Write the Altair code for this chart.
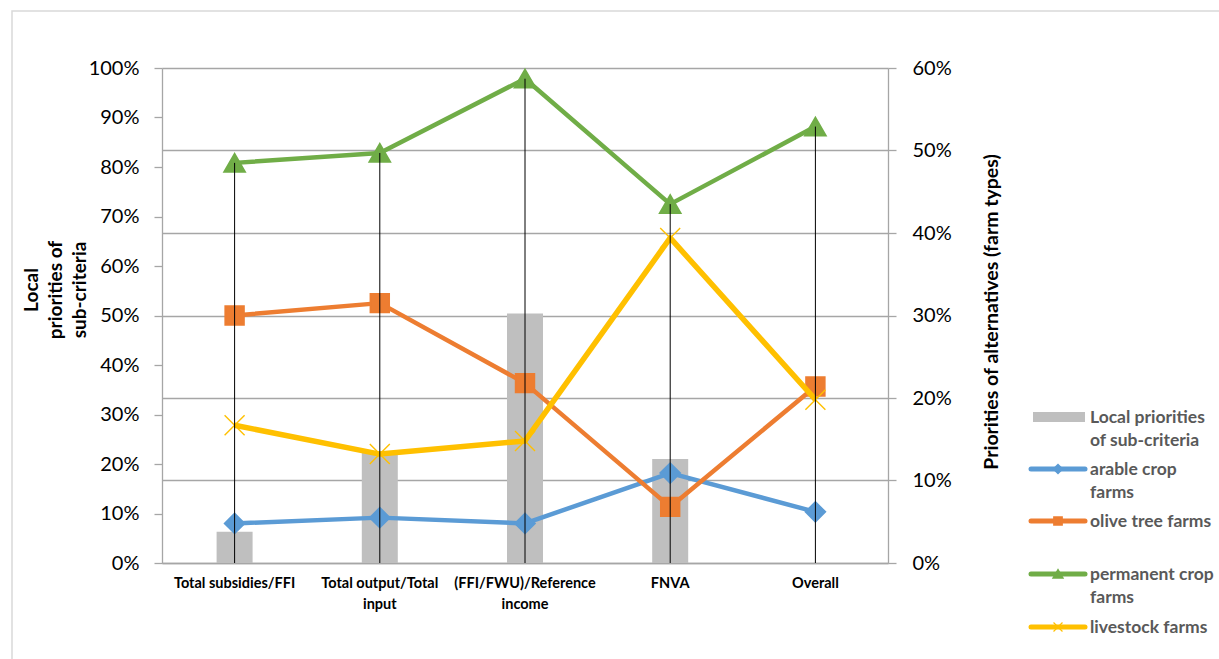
import altair as alt
import pandas as pd

# Sub-criteria on the horizontal axis (line breaks mark where the labels wrap)
CATEGORIES = [
    "Total subsidies/FFI",
    "Total output/Total\ninput",
    "(FFI/FWU)/Reference\nincome",
    "FNVA",
    "Overall",
]

# Local priorities of sub-criteria (left axis); no bar for "Overall"
SUB_CRITERIA = [0.063, 0.222, 0.504, 0.210, None]

# Priorities of alternatives per farm type (right axis)
SERIES_NAMES = ["arable crop farms", "olive tree farms", "permanent crop farms", "livestock farms"]
ARABLE = [0.048, 0.055, 0.048, 0.109, 0.062]
OLIVE = [0.300, 0.315, 0.218, 0.068, 0.214]
PERMANENT = [0.485, 0.497, 0.587, 0.435, 0.529]
LIVESTOCK = [0.167, 0.132, 0.148, 0.394, 0.198]
SERIES_VALUES = [ARABLE, OLIVE, PERMANENT, LIVESTOCK]

LEFT_TITLE = "Local\npriorities of\nsub-criteria"
RIGHT_TITLE = "Priorities of alternatives (farm types)"
LEGEND_LABELS = [
    "Local priorities\nof sub-criteria",
    "arable crop\nfarms",
    "olive tree farms",
    "permanent crop\nfarms",
    "livestock farms",
]

LEFT_TICKS = [i / 10 for i in range(11)]
RIGHT_TICKS = [i / 10 for i in range(7)]

# Styling
FONT = "Lato"
BAR_COLOR = "#BFBFBF"
COLORS = ["#5B9BD5", "#ED7D31", "#70AD47", "#FFC000"]
X_SHAPE = "M-1,-1L1,1M-1,1L1,-1"
SHAPES = ["diamond", "square", "triangle-up", X_SHAPE]
MARKER_SIZES = [380, 340, 420, 400]
LINE_WIDTHS = [4.5, 4.5, 4.5, 5.5]
AXIS_GRAY = "#A6A6A6"
LEGEND_TEXT = "#595959"

W, H = 726, 495

bars_df = pd.DataFrame({"category": CATEGORIES, "value": SUB_CRITERIA}).dropna()
long_df = pd.DataFrame(
    [
        {"category": c, "series": name, "value": v}
        for name, vals in zip(SERIES_NAMES, SERIES_VALUES)
        for c, v in zip(CATEGORIES, vals)
    ]
)

x_enc = alt.X(
    "category:N",
    sort=CATEGORIES,
    scale=alt.Scale(domain=CATEGORIES, paddingInner=0, paddingOuter=0),
    axis=alt.Axis(
        title=None,
        labelExpr="split(datum.label, '\\n')",
        labelAngle=0,
        labelFont=FONT,
        labelFontSize=14.5,
        labelFontWeight="bold",
        labelColor="#000000",
        labelLineHeight=21,
        labelPadding=13,
        ticks=False,
        domainColor=AXIS_GRAY,
        domainWidth=1.3,
        grid=False,
    ),
)

# Bars on the left axis
bars = alt.Chart(bars_df).mark_bar(size=36, color=BAR_COLOR).encode(
    x=x_enc,
    y=alt.Y(
        "value:Q",
        scale=alt.Scale(domain=[0, 1], nice=False, zero=True),
        axis=alt.Axis(
            orient="left",
            title=None,
            values=LEFT_TICKS,
            format=".0%",
            grid=False,
            tickSize=8,
            tickColor=AXIS_GRAY,
            tickWidth=1.3,
            domainColor=AXIS_GRAY,
            domainWidth=1.3,
            labelFont=FONT,
            labelFontSize=20,
            labelColor="#000000",
            labelPadding=15,
        ),
    ),
)

right_scale = alt.Scale(domain=[0, 0.6], nice=False, zero=True)
right_axis = alt.Axis(
    orient="right",
    title=None,
    values=RIGHT_TICKS,
    format=".0%",
    grid=True,
    gridColor=AXIS_GRAY,
    gridWidth=1.3,
    tickSize=8,
    tickColor=AXIS_GRAY,
    tickWidth=1.3,
    domainColor=AXIS_GRAY,
    domainWidth=1.3,
    labelFont=FONT,
    labelFontSize=20,
    labelColor="#000000",
    labelPadding=16,
)

series_layers = []
for name, color, shape, msize, lw in zip(SERIES_NAMES, COLORS, SHAPES, MARKER_SIZES, LINE_WIDTHS):
    base = alt.Chart(long_df).transform_filter(alt.datum.series == name)
    line = base.mark_line(color=color, strokeWidth=lw, strokeJoin="round").encode(
        x=x_enc, y=alt.Y("value:Q", scale=right_scale, axis=right_axis)
    )
    if shape == X_SHAPE:
        pts = base.mark_point(shape=shape, size=msize, filled=False, stroke=color, strokeWidth=1.4, opacity=1)
    else:
        pts = base.mark_point(shape=shape, size=msize, filled=True, fill=color, stroke=color, opacity=1)
    pts = pts.encode(x=x_enc, y=alt.Y("value:Q", scale=right_scale, axis=right_axis))
    series_layers += [line, pts]

# Drop lines from the highest value of each category down to the axis
drops = (
    alt.Chart(long_df)
    .transform_aggregate(top="max(value)", groupby=["category"])
    .transform_calculate(base="0")
    .mark_rule(color="#000000", strokeWidth=1)
    .encode(
        x=x_enc,
        y=alt.Y("top:Q", scale=right_scale, axis=right_axis),
        y2="base:Q",
    )
)

lines_group = alt.layer(*series_layers, drops)

one = pd.DataFrame({"k": [0]})

frame = alt.Chart(one).mark_rect(filled=False, stroke="#D9D9D9", strokeWidth=1.5).encode(
    x=alt.value(-150), x2=alt.value(1100), y=alt.value(-57), y2=alt.value(700)
)

left_title = alt.Chart(one).mark_text(
    angle=270, align="center", baseline="top", lineBreak="\n", lineHeight=24,
    font=FONT, fontSize=19, fontWeight="bold", color="#000000",
).encode(x=alt.value(-139), y=alt.value(222), text=alt.value(LEFT_TITLE))

right_title = alt.Chart(one).mark_text(
    angle=270, align="center", baseline="middle",
    font=FONT, fontSize=19.5, fontWeight="bold", color="#000000",
).encode(x=alt.value(830), y=alt.value(244), text=alt.value(RIGHT_TITLE))

# Legend drawn beside the plot
LEG_X0, LEG_X1, LEG_TX = 869, 923, 928
LEG_ROWS = [349, 401, 453, 506, 559]
legend_layers = [
    alt.Chart(one).mark_rect(color=BAR_COLOR).encode(
        x=alt.value(LEG_X0 + 2), x2=alt.value(LEG_X1), y=alt.value(LEG_ROWS[0] - 5), y2=alt.value(LEG_ROWS[0] + 5)
    )
]
LEG_MARKER_SIZES = [70, 60, 80, 80]
for color, shape, msize, row in zip(COLORS, SHAPES, LEG_MARKER_SIZES, LEG_ROWS[1:]):
    legend_layers.append(
        alt.Chart(one).mark_rule(color=color, strokeWidth=5, strokeCap="round").encode(
            x=alt.value(LEG_X0), x2=alt.value(LEG_X1), y=alt.value(row)
        )
    )
    if shape == X_SHAPE:
        mk = alt.Chart(one).mark_point(shape=shape, size=msize, filled=False, stroke=color, strokeWidth=1.2, opacity=1)
    else:
        mk = alt.Chart(one).mark_point(shape=shape, size=msize, filled=True, fill=color, stroke=color, opacity=1)
    legend_layers.append(mk.encode(x=alt.value((LEG_X0 + LEG_X1) / 2), y=alt.value(row)))
for label, row in zip(LEGEND_LABELS, LEG_ROWS):
    legend_layers.append(
        alt.Chart(one).mark_text(
            align="left", baseline="top", lineBreak="\n", lineHeight=23,
            font=FONT, fontSize=17.5, fontWeight="bold", color=LEGEND_TEXT,
        ).encode(x=alt.value(LEG_TX), y=alt.value(row - 8), text=alt.value(label))
    )

chart = (
    alt.layer(frame, bars, lines_group, left_title, right_title, *legend_layers)
    .resolve_scale(y="independent")
    .properties(
        width=W,
        height=H,
        autosize=alt.AutoSizeParams(type="none"),
        padding={"left": 162, "top": 68, "right": 331, "bottom": 96},
        background="#FFFFFF",
    )
    .configure_view(strokeWidth=0)
)

chart.save("out.html", embed_options={"renderer": "svg", "actions": False})
